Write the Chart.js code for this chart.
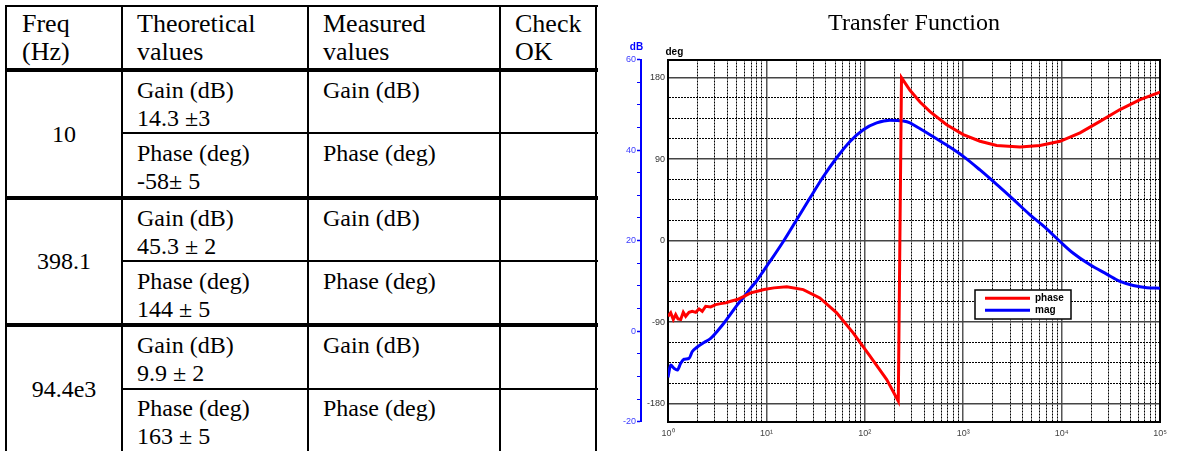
<!DOCTYPE html>
<html>
<head>
<meta charset="utf-8">
<script src="https://cdn.jsdelivr.net/npm/chart.js@4.4.0/dist/chart.umd.min.js"></script>
<style>
html,body{margin:0;padding:0;background:#fff;width:1182px;height:451px;overflow:hidden;}
#wrap{position:relative;width:1182px;height:451px;}
.ln{position:absolute;background:#000;}
.tx{position:absolute;font-family:'Liberation Serif','Times New Roman',serif;font-size:24px;line-height:28px;color:#000;white-space:nowrap;}
.hd{font-size:26px;}
.c1{width:116px;text-align:center;left:6px;}
#c{position:absolute;left:600px;top:0;}
</style>
</head>
<body>
<div id="wrap">
  <div id="tbl"></div>
  <canvas id="c" width="582" height="451"></canvas>
</div>
<script>
// ---------- chart data ----------
const magFreqHz = [1.00,1.065,1.151,1.243,1.346,1.454,1.635,1.766,1.986,2.322,2.716,3.17,3.71,4.34,5.06,5.92,6.92,8.08,9.45,10.88,14.85,20.3,27.7,37.8,51.8,70.7,96.6,132,180,246,288,311,460,679,1002,1482,2188,3230,4775,7060,9640,13150,19280,28700,39200,53500,73800,100000];
const magDb = [-10.2,-7.5,-8.2,-8.6,-7.1,-6.2,-6.0,-4.5,-3.5,-2.5,-1.6,0.0,1.8,3.8,5.8,7.6,9.5,11.3,13.5,15.4,19.8,24.6,29.4,34.1,38.3,41.9,44.5,46.0,46.6,46.4,46.0,45.6,43.4,41.1,38.6,35.6,32.4,29.1,25.7,22.6,19.8,17.2,14.7,12.6,11.0,10.1,9.6,9.5];
const phaseFreqHz = [1.0,1.065,1.132,1.197,1.263,1.346,1.43,1.513,1.635,1.766,1.911,2.066,2.229,2.414,2.716,3.05,3.43,3.86,4.34,5.06,5.92,6.92,8.08,9.45,11.94,16.1,23.7,34.9,51.8,76.1,113,167,219,236,288,364,460,679,1002,1482,2188,3776,6030,9640,15380,24550,39200,62700,100000];
const phaseDeg = [-83.6,-79.8,-87.2,-81.7,-86.5,-87.2,-79.2,-83.6,-79.2,-78.1,-79.2,-75.4,-78.1,-72.5,-73.2,-70.7,-69.6,-68.8,-67.0,-65.1,-61.5,-57.7,-56.0,-54.1,-52.2,-51.1,-54.1,-63.3,-79.8,-101.9,-127.7,-153.5,-177.4,180,166,153,142.5,128,117,109.7,105,103.5,105,109.7,119,131.7,144.7,155.7,164];
const seriesNames = ['phase','mag'];
const chartTitle = 'Transfer Function';
const xTickLabels = ['10\u2070','10\u00b9','10\u00b2','10\u00b3','10\u2074','10\u2075'];
const degTickLabels = ['-180','-90','0','90','180'];
const dbTickLabels = ['-20','0','20','40','60'];
const axisUnitDb = 'dB';
const axisUnitDeg = 'deg';

// ---------- table content ----------
const tableHeaders = [['Freq','(Hz)'],['Theoretical','values'],['Measured','values'],['Check','OK']];
const tableFreqs = ['10','398.1','94.4e3'];
const theoGain = ['14.3 \u00b13','45.3 \u00b1 2','9.9 \u00b1 2'];
const theoPhase = ['-58\u00b1 5','144 \u00b1 5','163 \u00b1 5'];
const gainLabel = 'Gain (dB)';
const phaseLabel = 'Phase (deg)';

// ---------- build table ----------
(function(){
  const t = document.getElementById('tbl');
  const add = (cls, style, html) => { const d = document.createElement('div'); d.className = cls; d.setAttribute('style', style); d.innerHTML = html; t.appendChild(d); };
  [4.5,121,307,499,595].forEach(x => add('ln', `left:${x}px;top:4.5px;width:2px;height:447px`, ''));
  add('ln','left:4.5px;top:4.5px;width:593px;height:2px','');
  [68,195.5,323].forEach(y => add('ln', `left:4.5px;top:${y}px;width:593px;height:4px`, ''));
  [132,260,388].forEach(y => add('ln', `left:121px;top:${y}px;width:476.5px;height:2px`, ''));
  const colX = [22,137,323,515];
  tableHeaders.forEach((h,i) => add('tx hd', `left:${colX[i]}px;top:10px`, h.join('<br>')));
  const groupTop = [70,197.5,325];
  tableFreqs.forEach((f,i) => {
    const g = groupTop[i];
    const mid = g + 63.5;
    add('tx c1', `top:${mid-14}px`, f);
    add('tx', `left:${colX[1]}px;top:${g+6}px`, gainLabel + '<br>' + theoGain[i]);
    add('tx', `left:${colX[2]}px;top:${g+6}px`, gainLabel);
    add('tx', `left:${colX[1]}px;top:${g+69}px`, phaseLabel + '<br>' + theoPhase[i]);
    add('tx', `left:${colX[2]}px;top:${g+69}px`, phaseLabel);
  });
})();

// ---------- grid helpers ----------
const isDecade = v => Math.abs(Math.log10(v) - Math.round(Math.log10(v))) < 1e-6;
const xGrid = [];
for (let e = 0; e < 5; e++) for (let m = 1; m < 10; m++) xGrid.push(m * Math.pow(10, e));
xGrid.push(1e5);
const xDecades = xGrid.filter(isDecade);
const degGrid = [];
for (let v = -180; v <= 180; v += 22.5) degGrid.push(v);
const degMajor = degGrid.filter(v => v % 90 === 0);
const dbGrid = [];
for (let v = -20; v <= 60; v += 5) dbGrid.push(v);

const FONT = 'Liberation Sans';
Chart.defaults.font.family = FONT;

const extras = {
  id: 'extras',
  afterLayout(chart) {
    const lg = chart.legend;
    if (!lg) return;
    const ca = chart.chartArea;
    lg.left = ca.left + 315;
    lg.top = ca.top + 231.8;
    lg.right = lg.left + 100;
    lg.bottom = lg.top + 40;
  },
  afterDatasetsDraw(chart) {
    const ctx = chart.ctx, ca = chart.chartArea;
    const lg = chart.legend;
    ctx.save();
    const bx = ca.left + 307, by = ca.top + 230.5;
    ctx.fillStyle = '#fff';
    ctx.fillRect(bx, by, 96, 29);
    ctx.strokeStyle = '#000';
    ctx.lineWidth = 1.5;
    ctx.strokeRect(bx, by, 96, 29);
    ctx.restore();
    if (lg) lg.draw();
  },
  afterDraw(chart) {
    const ctx = chart.ctx, ca = chart.chartArea;
    const sDb = chart.scales.yDb, sDeg = chart.scales.yDeg;
    ctx.save();
    ctx.font = 'bold 10px ' + FONT;
    ctx.textBaseline = 'middle';
    ctx.textAlign = 'center';
    ctx.fillStyle = '#0000ff';
    ctx.fillText(axisUnitDb, sDb.right - 4.5, ca.top - 12);
    ctx.textAlign = 'left';
    ctx.fillStyle = '#000';
    ctx.fillText(axisUnitDeg, sDeg.right - 2.5, ca.top - 7.5);
    ctx.restore();
  }
};

new Chart(document.getElementById('c'), {
  type: 'line',
  data: {
    datasets: [
      {
        label: seriesNames[0],
        data: phaseFreqHz.map((f, i) => ({x: f, y: phaseDeg[i]})),
        borderColor: '#ff0000', backgroundColor: '#ff0000',
        borderWidth: 3, pointRadius: 0, tension: 0,
        xAxisID: 'x', yAxisID: 'yDeg'
      },
      {
        label: seriesNames[1],
        data: magFreqHz.map((f, i) => ({x: f, y: magDb[i]})),
        borderColor: '#0000ff', backgroundColor: '#0000ff',
        borderWidth: 3, pointRadius: 0, cubicInterpolationMode: 'monotone',
        xAxisID: 'x', yAxisID: 'yDb'
      }
    ]
  },
  options: {
    responsive: false,
    animation: false,
    devicePixelRatio: 1,
    layout: {padding: 0},
    plugins: {
      title: {
        display: true, text: chartTitle, fullSize: false, color: '#000',
        font: {family: 'Liberation Serif', size: 24, weight: 'normal'},
        padding: {top: 9.6, bottom: 21.1}
      },
      legend: {
        display: true, position: 'chartArea', align: 'start',
        labels: {
          usePointStyle: true, pointStyle: 'line', pointStyleWidth: 45,
          padding: 2, color: '#000',
          font: {family: FONT, size: 10, weight: 'bold'}
        }
      },
      tooltip: {enabled: false}
    },
    scales: {
      x: {
        type: 'logarithmic', position: 'bottom', min: 1, max: 1e5,
        afterBuildTicks: s => { s.ticks = xGrid.map(v => ({value: v})); },
        afterFit: s => { s.height = 29.3; },
        ticks: {
          autoSkip: false, maxRotation: 0, minRotation: 0, padding: 6,
          color: '#444', font: {size: 9},
          callback: v => isDecade(v) ? xTickLabels[Math.round(Math.log10(v))] : ''
        },
        grid: {drawTicks: false, lineWidth: 1, color: c => (c.tick && isDecade(c.tick.value)) ? 'rgba(0,0,0,0)' : '#000'},
        border: {display: true, color: '#000', width: 2, dash: [2, 1]}
      },
      xTop: {
        type: 'logarithmic', position: 'top', min: 1, max: 1e5,
        afterBuildTicks: s => { s.ticks = xDecades.map(v => ({value: v})); },
        afterFit: s => { s.height = 0; },
        ticks: {display: false},
        grid: {drawTicks: false, color: '#555', lineWidth: 1.5},
        border: {display: true, color: '#000', width: 2}
      },
      yDeg: {
        type: 'linear', position: 'left', min: -200, max: 200, weight: 0,
        afterBuildTicks: s => { s.ticks = degGrid.map(v => ({value: v})); },
        afterFit: s => { s.width = 27; },
        ticks: {
          autoSkip: false, padding: 3, color: '#333', font: {size: 9},
          callback: v => degTickLabels.find(l => Number(l) === v) || ''
        },
        grid: {drawTicks: false, lineWidth: 1, color: c => (c.tick && c.tick.value % 90 === 0) ? 'rgba(0,0,0,0)' : '#000'},
        border: {display: true, color: '#000', width: 2, dash: [2, 1]}
      },
      yDegR: {
        type: 'linear', position: 'right', min: -200, max: 200,
        afterBuildTicks: s => { s.ticks = degMajor.map(v => ({value: v})); },
        afterFit: s => { s.width = 22; },
        ticks: {display: false},
        grid: {drawTicks: false, color: '#444', lineWidth: 1.5},
        border: {display: true, color: '#000', width: 2}
      },
      yDb: {
        type: 'linear', position: 'left', min: -20, max: 60, weight: 1,
        afterBuildTicks: s => { s.ticks = dbGrid.map(v => ({value: v})); },
        afterFit: s => { s.width = 41; },
        ticks: {
          autoSkip: false, padding: 1, color: '#3a3aff', font: {size: 9},
          callback: v => dbTickLabels.find(l => Number(l) === v) || ''
        },
        grid: {drawOnChartArea: false, drawTicks: true, tickLength: 4, tickColor: '#0000ff', tickWidth: c => (c.tick && c.tick.value % 20 === 0) ? 1.5 : 1},
        border: {display: true, color: '#0000ff', width: 2}
      }
    }
  },
  plugins: [extras]
});
</script>
</body>
</html>
